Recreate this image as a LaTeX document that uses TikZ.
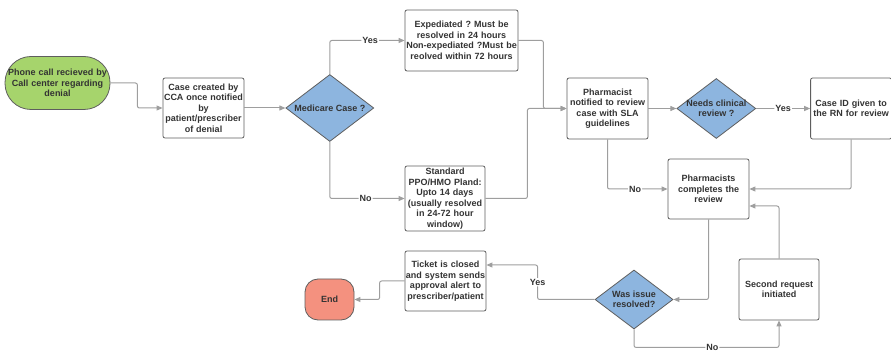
\documentclass[tikz,border=0pt]{standalone}
\usepackage{fontspec}
\setmainfont{Liberation Sans}
\usetikzlibrary{arrows.meta,positioning,shapes.geometric}
\frenchspacing
\definecolor{Ink}{HTML}{333333}
\definecolor{Edge}{HTML}{5E5E5E}
\definecolor{Wire}{HTML}{9E9E9E}
\definecolor{Leaf}{HTML}{A6D46C}
\definecolor{Sky}{HTML}{8DB5DF}
\definecolor{Coral}{HTML}{F4917F}
\tikzset{
 box/.style={draw=Edge,fill=white,line width=0.8pt,rounded corners=2pt,align=center,text=Ink,font=\bfseries\fontsize{9}{10.5}\selectfont,inner sep=1pt,text width=79pt,minimum height=60pt},
 terminal/.style={box,rounded corners=26pt,fill=Leaf},
 decision/.style={diamond,draw=Edge,fill=Sky,line width=0.8pt,inner sep=0pt},
 dtext/.style={align=center,text=Ink,font=\bfseries\fontsize{9}{10.5}\selectfont,inner sep=0pt},
 arr/.style={-{Triangle[length=6pt,width=5pt]},line width=1pt,draw=Wire,rounded corners=2pt},
 lbl/.style={fill=white,inner sep=1pt,text=Ink,font=\bfseries\fontsize{9}{10.5}\selectfont}
}
\begin{document}
\begin{tikzpicture}[x=1pt,y=-1pt]
\useasboundingbox (0,0) rectangle (891,352);
\node[terminal,text width=103pt,minimum height=53pt] (call) at (57.5,83) {Phone call recieved by\\Call center regarding\\denial};
\node[box] (case) at (203.5,108) {Case created by\\CCA once notified\\by\\patient/prescriber\\of denial};
\node[decision,minimum width=88pt,minimum height=67pt,label={[dtext]center:Medicare Case ?},right=41pt of case] (medicare) {};
\node[box,text width=111pt,minimum height=61pt] (expedited) at (461.5,40.5) {Expediated ? Must be\\resolved in 24 hours\\Non-expediated ?Must be\\reolved within 72 hours};
\node[box,text width=78pt,minimum height=65pt] (standard) at (445,198.5) {Standard\\PPO/HMO Pland:\\Upto 14 days\\(usually resolved\\in 24-72 hour\\window)};
\node[box,minimum height=61pt] (pharm) at (607.5,108.5) {Pharmacist\\notified to review\\case with SLA\\guidelines};
\node[decision,minimum width=79pt,minimum height=60pt,label={[dtext]center:{Needs clinical\\review ?}},right=28pt of pharm] (clinical) {};
\node[box,minimum height=61pt,right=54pt of clinical] (rn) {Case ID given to\\the RN for review};
\node[box] (complete) at (708.5,189) {Pharmacists\\completes the\\review};
\node[box,text width=78pt,minimum height=61pt] (second) at (779,289.5) {Second request\\initiated};
\node[decision,minimum width=78pt,minimum height=59pt,label={[dtext]center:{Was issue\\resolved?}}] (resolved) at (634,299.5) {};
\node[box,inner sep=0pt,text width=81pt] (ticket) at (445.5,281) {Ticket is closed\\and system sends\\approval alert to\\prescriber/patient};
\node[terminal,fill=Coral,text width=47pt,minimum height=41pt,rounded corners=13pt] (finish) at (329.5,299.5) {End};
% connectors
\draw[arr] (call.east) -- ++(27,0) |- (case.west);
\draw[arr] (case) -- (medicare);
\draw[arr] (medicare.north) |- node[lbl,pos=0.77] {Yes} (expedited.west);
\draw[arr] (medicare.south) |- node[lbl,pos=0.74] {No} (standard.west);
\draw[arr] (expedited.east) -- ++(25,0) |- (pharm.west);
\draw[arr] (standard.east) -- ++(42,0) |- (pharm.west);
\draw[arr] (pharm) -- (clinical);
\draw[arr] (clinical) -- node[lbl] {Yes} (rn);
\draw[arr] (rn.south) |- (complete.east);
\draw[arr] (pharm.south) |- node[lbl,pos=0.73] {No} (complete.west);
\draw[arr] (second.north) |- ([yshift=-17pt]complete.east);
\draw[arr] (complete.south) |- (resolved.east);
\draw[arr] (resolved.west) -- ++(-57,0) |- node[lbl,pos=0.25] {Yes} ([yshift=16pt]ticket.east);
\draw[arr] (ticket.west) -- ++(-25,0) |- (finish.east);
\draw[arr] (resolved.south) -- ++(0,18) -| node[lbl,pos=0.27] {No} (second.south);
\end{tikzpicture}
\end{document}
